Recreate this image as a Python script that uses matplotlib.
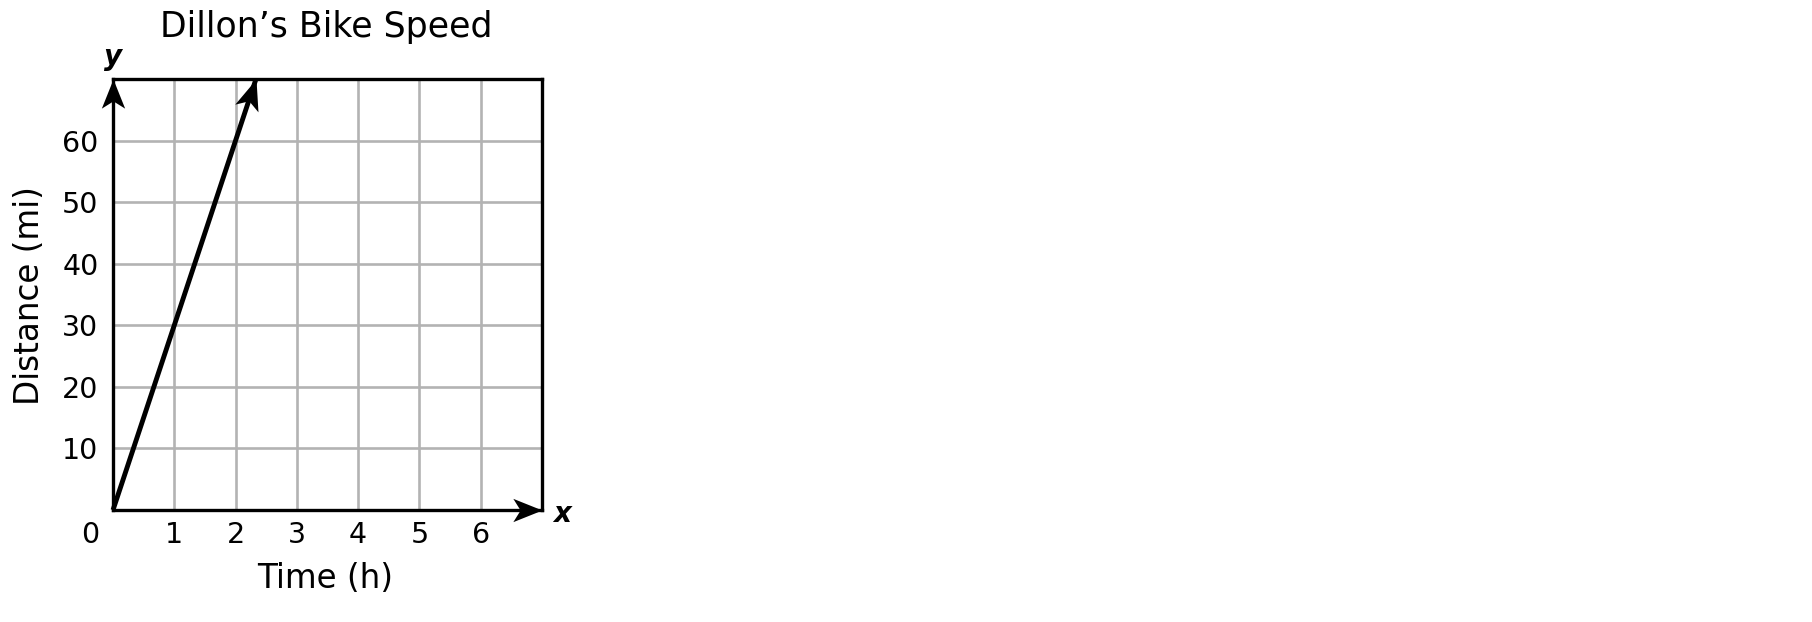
import numpy as np
import matplotlib
matplotlib.use('Agg')
from matplotlib import pyplot as plt
from matplotlib.path import Path
from matplotlib.markers import MarkerStyle
from matplotlib.transforms import Affine2D

# chart data
title = 'Dillon\u2019s Bike Speed'
x_label = 'Time (h)'
y_label = 'Distance (mi)'
x_ticks = [1, 2, 3, 4, 5, 6]
y_ticks = [10, 20, 30, 40, 50, 60]
x_max = 7
y_max = 70
speed = 30  # miles per hour
line_x = [0, y_max / speed]
line_y = [0, y_max]

GRID = '#b3b3b3'
FONT = 'DejaVu Sans'
plt.rcParams['font.family'] = FONT


def arrow_marker(angle):
    # stealth style head, tip sitting on the data point
    verts = [(0, 0), (-1, 0.4), (-0.75, 0), (-1, -0.4), (0, 0)]
    codes = [Path.MOVETO, Path.LINETO, Path.LINETO, Path.LINETO, Path.CLOSEPOLY]
    return MarkerStyle(Path(verts, codes), transform=Affine2D().rotate_deg(angle))


fig = plt.figure(figsize=(18.12, 6.22), dpi=100)
ax = fig.add_axes([113 / 1812, 112 / 622, 429 / 1812, 431 / 622])
ax.set_xlim(0, x_max)
ax.set_ylim(0, y_max)

# grid
for xv in x_ticks:
    ax.axvline(xv, color=GRID, lw=1.9, zorder=1)
for yv in y_ticks:
    ax.axhline(yv, color=GRID, lw=1.9, zorder=1)

for sp in ax.spines.values():
    sp.set_linewidth(2.4)
    sp.set_color('black')
    sp.set_zorder(3)

ax.set_xticks(x_ticks)
ax.set_yticks(y_ticks)
ax.tick_params(length=0, labelsize=20.5)
ax.tick_params(axis='x', pad=8)
ax.tick_params(axis='y', pad=10.5)

# axis arrows
ax.plot([0], [y_max], marker=arrow_marker(90), ms=42, color='black',
        mew=0, clip_on=False, zorder=4)
ax.plot([x_max], [0], marker=arrow_marker(0), ms=42, color='black',
        mew=0, clip_on=False, zorder=4)

# distance line with arrow head
fig.canvas.draw()
p0 = ax.transData.transform((line_x[0], line_y[0]))
p1 = ax.transData.transform((line_x[1], line_y[1]))
ang = np.degrees(np.arctan2(p1[1] - p0[1], p1[0] - p0[0]))
ax.plot(line_x, line_y, color='black', lw=3.5, solid_capstyle='butt',
        clip_on=False, zorder=5)
ax.plot(line_x[-1:], line_y[-1:], marker=arrow_marker(ang), ms=44,
        color='black', mew=0, clip_on=False, zorder=5)

# text
ax.text(0.4965, 1.0968, title, transform=ax.transAxes, ha='center',
        va='baseline', fontsize=25)
ax.text(0.494, -0.1817, x_label, transform=ax.transAxes, ha='center',
        va='baseline', fontsize=23.5)
ax.text(-0.172, 0.4965, y_label, transform=ax.transAxes, ha='center',
        va='baseline', rotation=90, rotation_mode='anchor', fontsize=23.5)
ax.annotate('0', xy=(0, 0), xytext=(-16.2, -23.5), textcoords='offset points',
            ha='center', va='baseline', fontsize=20.5)
ax.text(-0.001, (510 - 65) / 431, 'y', transform=ax.transAxes, ha='center',
        va='baseline', fontsize=20, fontweight='bold', fontstyle='italic')
ax.text((562.5 - 113) / 429, (510 - 521.7) / 431, 'x', transform=ax.transAxes,
        ha='center', va='baseline', fontsize=20, fontweight='bold',
        fontstyle='italic')

fig.savefig('out.png', dpi=100, facecolor='white')
